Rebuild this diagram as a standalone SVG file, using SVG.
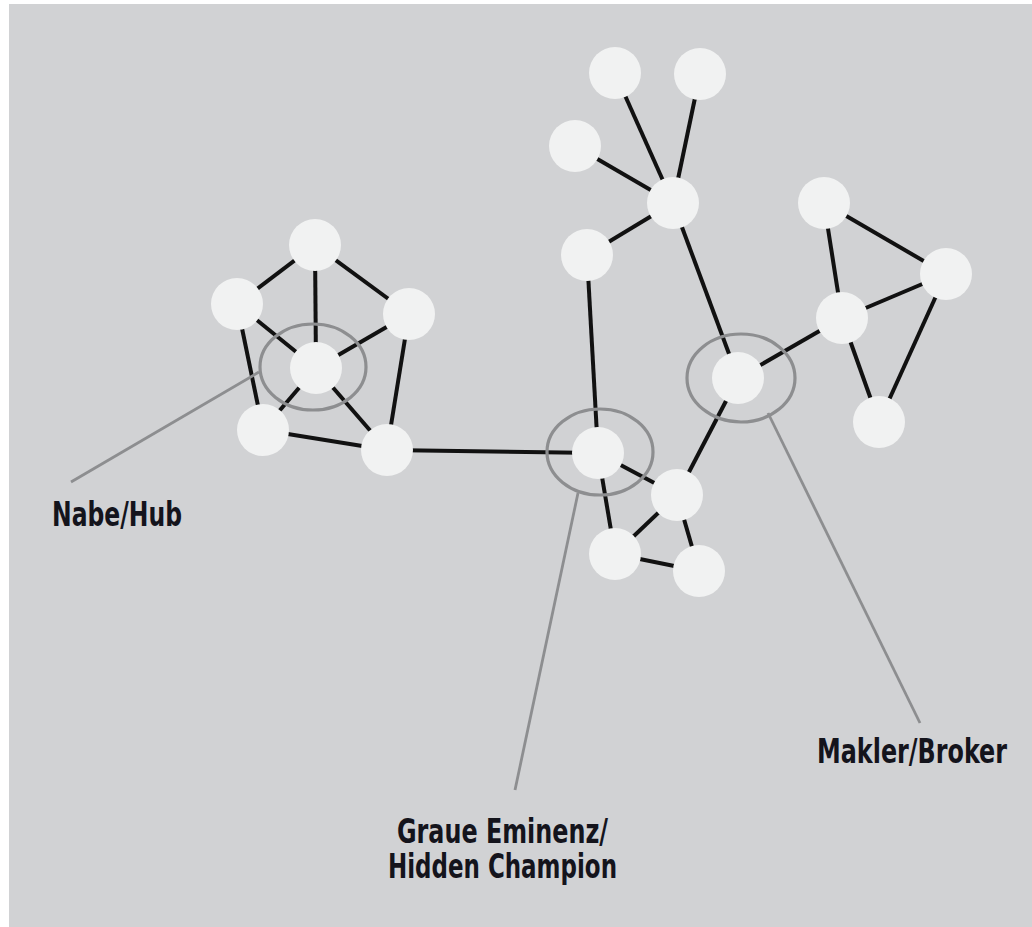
<svg xmlns="http://www.w3.org/2000/svg" width="1032" height="927" viewBox="0 0 1032 927">
<style>
.bg{fill:#d1d2d4}
.n{fill:#f1f2f2}
.e{stroke:#111;stroke-width:4;stroke-linecap:butt}
.p{stroke:#8d8e90;stroke-width:2.8;fill:none}
.r{stroke:#8d8e90;stroke-width:3.2;fill:none}
.t{font-family:"DejaVu Sans Condensed","Liberation Sans Narrow","Liberation Sans",sans-serif;font-stretch:condensed;font-weight:bold;font-size:33px;fill:#14141c}
</style>
<rect x="0" y="0" width="1032" height="927" fill="#ffffff"/>
<rect class="bg" x="9" y="4" width="1023" height="923"/>
<g id="connectors">
<line class="e" x1="315" y1="245" x2="237" y2="304"/>
<line class="e" x1="315" y1="245" x2="409" y2="314"/>
<line class="e" x1="315" y1="245" x2="316" y2="368"/>
<line class="e" x1="237" y1="304" x2="316" y2="368"/>
<line class="e" x1="409" y1="314" x2="316" y2="368"/>
<line class="e" x1="237" y1="304" x2="263" y2="430"/>
<line class="e" x1="409" y1="314" x2="387" y2="450"/>
<line class="e" x1="316" y1="368" x2="263" y2="430"/>
<line class="e" x1="316" y1="368" x2="387" y2="450"/>
<line class="e" x1="263" y1="430" x2="387" y2="450"/>
<line class="e" x1="387" y1="450" x2="598" y2="453"/>
<line class="e" x1="587" y1="255" x2="598" y2="453"/>
<line class="e" x1="598" y1="453" x2="677" y2="495"/>
<line class="e" x1="598" y1="453" x2="615" y2="554"/>
<line class="e" x1="677" y1="495" x2="615" y2="554"/>
<line class="e" x1="677" y1="495" x2="699" y2="571"/>
<line class="e" x1="615" y1="554" x2="699" y2="571"/>
<line class="e" x1="677" y1="495" x2="738" y2="378"/>
<line class="e" x1="615" y1="73" x2="673" y2="203"/>
<line class="e" x1="700" y1="74" x2="673" y2="203"/>
<line class="e" x1="575" y1="146" x2="673" y2="203"/>
<line class="e" x1="587" y1="255" x2="673" y2="203"/>
<line class="e" x1="673" y1="203" x2="738" y2="378"/>
<line class="e" x1="824" y1="203" x2="946" y2="274"/>
<line class="e" x1="824" y1="203" x2="842" y2="318"/>
<line class="e" x1="946" y1="274" x2="842" y2="318"/>
<line class="e" x1="842" y1="318" x2="879" y2="422"/>
<line class="e" x1="946" y1="274" x2="879" y2="422"/>
<line class="e" x1="842" y1="318" x2="738" y2="378"/>
<line class="p" x1="259" y1="372" x2="71" y2="482"/>
<line class="p" x1="578" y1="493" x2="515" y2="790"/>
<line class="p" x1="768" y1="413" x2="920" y2="723"/>
</g>
<g id="hub-ring"><ellipse class="r" cx="313" cy="367" rx="53" ry="43"/></g>
<g id="graue-ring"><ellipse class="r" cx="600" cy="452" rx="53" ry="43"/></g>
<g id="broker-ring"><ellipse class="r" cx="741" cy="378" rx="54" ry="44"/></g>
<g id="n-left-top"><circle class="n" cx="315" cy="245" r="26"/></g>
<g id="n-left-left"><circle class="n" cx="237" cy="304" r="26"/></g>
<g id="n-left-right"><circle class="n" cx="409" cy="314" r="26"/></g>
<g id="n-hub"><circle class="n" cx="316" cy="368" r="26"/></g>
<g id="n-left-bl"><circle class="n" cx="263" cy="430" r="26"/></g>
<g id="n-left-br"><circle class="n" cx="387" cy="450" r="26"/></g>
<g id="n-graue"><circle class="n" cx="598" cy="453" r="26"/></g>
<g id="n-mid-h"><circle class="n" cx="677" cy="495" r="26"/></g>
<g id="n-mid-i"><circle class="n" cx="615" cy="554" r="26"/></g>
<g id="n-mid-j"><circle class="n" cx="699" cy="571" r="26"/></g>
<g id="n-broker"><circle class="n" cx="738" cy="378" r="26"/></g>
<g id="n-top-1"><circle class="n" cx="615" cy="73" r="26"/></g>
<g id="n-top-2"><circle class="n" cx="700" cy="74" r="26"/></g>
<g id="n-top-3"><circle class="n" cx="575" cy="146" r="26"/></g>
<g id="n-top-center"><circle class="n" cx="673" cy="203" r="26"/></g>
<g id="n-top-low"><circle class="n" cx="587" cy="255" r="26"/></g>
<g id="n-right-1"><circle class="n" cx="824" cy="203" r="26"/></g>
<g id="n-right-2"><circle class="n" cx="946" cy="274" r="26"/></g>
<g id="n-right-3"><circle class="n" cx="842" cy="318" r="26"/></g>
<g id="n-right-4"><circle class="n" cx="879" cy="422" r="26"/></g>
<g id="labels">
<text class="t" x="52" y="526" textLength="130" lengthAdjust="spacingAndGlyphs">Nabe/Hub</text>
<text class="t" x="397" y="843" textLength="211" lengthAdjust="spacingAndGlyphs">Graue Eminenz/</text>
<text class="t" x="388" y="878" textLength="229" lengthAdjust="spacingAndGlyphs">Hidden Champion</text>
<text class="t" x="817" y="763" textLength="190" lengthAdjust="spacingAndGlyphs">Makler/Broker</text>
</g>
</svg>
